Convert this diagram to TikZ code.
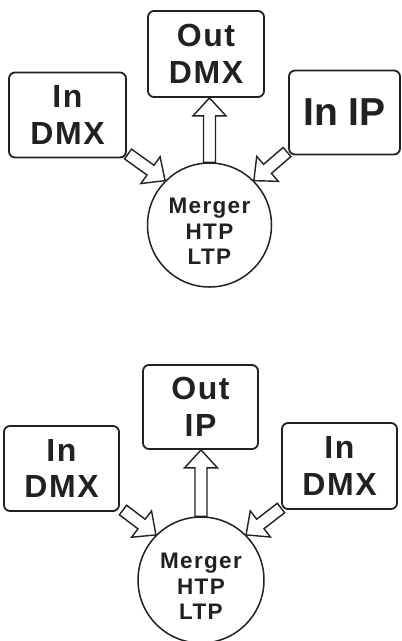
\documentclass[tikz,border=0pt]{standalone}
\usepackage{fontspec}
\setmainfont{Liberation Sans}
\newfontfamily\lblfont{Liberation Sans}[LetterSpace=5]
\newfontfamily\hublblfont{Liberation Sans}[LetterSpace=6]
\usetikzlibrary{calc}
\definecolor{ink}{gray}{0.13}
\newcommand\boxfont{\lblfont\bfseries\fontsize{32}{36.7}\selectfont}
\newcommand\bigfont{\bfseries\fontsize{39}{44}\selectfont}
\newcommand\hubfont{\hublblfont\bfseries\fontsize{22.5}{25.5}\selectfont}
\newcommand\sw{6pt}
\newcommand\hw{16.5pt}
\newcommand\hl{18pt}
\tikzset{
  box/.style={draw=ink, line width=1.8pt, rounded corners=6pt, align=center,
    text=ink, inner sep=0pt, font=\boxfont},
  hub/.style={circle, draw=ink, line width=1.5pt, inner sep=0pt},
  hubtext/.style={align=center, text=ink, font=\hubfont, yshift=-6.5pt},
  blockarrow/.style={draw=ink, line width=1.4pt, fill=white, line join=miter,
    to path={
      ($(\tikztostart)!\sw!90:(\tikztotarget)$)
      -- ($($(\tikztotarget)!\hl!(\tikztostart)$)!\sw!-90:(\tikztostart)$)
      -- ($($(\tikztotarget)!\hl!(\tikztostart)$)!\hw!-90:(\tikztostart)$)
      -- (\tikztotarget)
      -- ($($(\tikztotarget)!\hl!(\tikztostart)$)!\hw!90:(\tikztostart)$)
      -- ($($(\tikztotarget)!\hl!(\tikztostart)$)!\sw!90:(\tikztostart)$)
      -- ($(\tikztostart)!\sw!-90:(\tikztotarget)$)
      -- cycle}}
}
\begin{document}
\begin{tikzpicture}[x=1pt,y=-1pt]
\useasboundingbox[fill=white] (0,0) rectangle (402,641);
% ---------- top diagram ----------
\node[box, minimum width=116pt, minimum height=86pt] (OutA) at (206,54) {Out\\DMX};
\node[box, minimum width=117pt, minimum height=85pt] (InA) at (67.5,115) {In\\DMX};
\node[box, minimum width=111pt, minimum height=84pt, font=\bigfont] (IPA) at (344.5,112.5) {In IP};
\node[hub, minimum size=124pt, label={[hubtext]center:Merger\\HTP\\LTP}] (circA) at (209.5,225) {};
\coordinate (uA) at (circA.north |- OutA.south);
\coordinate (tlA) at (128,154);
\coordinate (trA) at (287,152);
\draw[blockarrow] (circA.north) to (uA);
\draw[blockarrow] (tlA) to (circA.135);
\draw[blockarrow] (trA) to (circA.45);
% ---------- bottom diagram ----------
\node[box, minimum width=115pt, minimum height=84pt] (OutB) at (200.5,407) {Out\\IP};
\node[box, minimum width=115pt, minimum height=85pt] (InB1) at (61.5,468.5) {In\\DMX};
\node[box, minimum width=115pt, minimum height=86pt] (InB2) at (339.5,466) {In\\DMX};
\node[hub, minimum size=126pt, label={[hubtext]center:Merger\\HTP\\LTP}] (circB) at (201,580) {};
\coordinate (uB) at (circB.north |- OutB.south);
\coordinate (tlB) at (123,510);
\coordinate (trB) at (281,508);
\draw[blockarrow] (circB.north) to (uB);
\draw[blockarrow] (tlB) to (circB.135);
\draw[blockarrow] (trB) to (circB.45);
\end{tikzpicture}
\end{document}
